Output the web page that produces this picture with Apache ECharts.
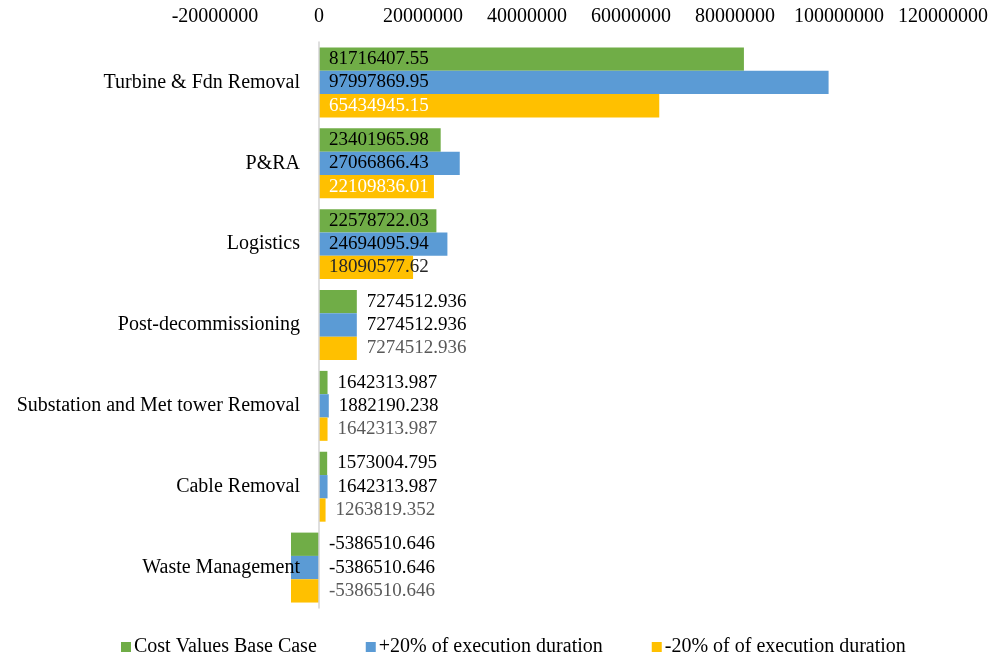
<!DOCTYPE html>
<html>
<head>
<meta charset="utf-8">
<script src="https://cdn.jsdelivr.net/npm/echarts@6/dist/echarts.min.js"></script>
<style>
  html, body { margin: 0; padding: 0; background: #fff; }
  #main { width: 1003px; height: 666px; }
</style>
</head>
<body>
<div id="main"></div>
<script>
var categories = ['Turbine & Fdn Removal', 'P&RA', 'Logistics', 'Post-decommissioning',
  'Substation and Met tower Removal', 'Cable Removal', 'Waste Management'];
var seriesNames = ['Cost Values Base Case', '+20% of execution duration', '-20% of of execution duration'];
var baseCase = [81716407.55, 23401965.98, 22578722.03, 7274512.936, 1642313.987, 1573004.795, -5386510.646];
var plus20 = [97997869.95, 27066866.43, 24694095.94, 7274512.936, 1882190.238, 1642313.987, -5386510.646];
var minus20 = [65434945.15, 22109836.01, 18090577.62, 7274512.936, 1642313.987, 1263819.352, -5386510.646];
var xTicks = { min: -20000000, max: 120000000, step: 20000000 };

var colors = ['#70AD47', '#5B9BD5', '#FFC000'];
var font = "'Liberation Serif', 'Times New Roman', serif";

// excel puts the value inside when the bar is long enough, otherwise to the right
function makeData(values, idx) {
  return values.map(function (v) {
    var inside = v > 15000000;
    var color = '#000';
    if (idx === 2) color = inside ? (v > 20000000 ? '#fff' : '#262626') : '#595959';
    return {
      value: v,
      label: {
        position: inside ? 'insideLeft' : 'right',
        distance: 10,
        color: color
      }
    };
  });
}

var series = [baseCase, plus20, minus20].map(function (vals, i) {
  return {
    name: seriesNames[i],
    type: 'bar',
    barGap: 0,
    barCategoryGap: '13.5%',
    itemStyle: { color: colors[i] },
    label: {
      show: true,
      fontFamily: font,
      fontSize: 19,
      formatter: function (p) { return String(p.value); }
    },
    data: makeData(vals, i)
  };
});

var option = {
  backgroundColor: '#fff',
  animation: false,
  textStyle: { fontFamily: font },
  grid: { left: 215, right: 60, top: 42, bottom: 58, containLabel: false, outerBoundsMode: 'none' },
  legend: {
    bottom: 4,
    left: 116,
    itemWidth: 10,
    itemHeight: 10,
    itemGap: 49,
    icon: 'rect',
    textStyle: { fontFamily: font, fontSize: 20, color: '#000', padding: [0, 0, 0, -2] },
    data: seriesNames
  },
  xAxis: {
    type: 'value',
    position: 'top',
    min: xTicks.min,
    max: xTicks.max,
    interval: xTicks.step,
    axisLine: { show: false },
    axisTick: { show: false },
    splitLine: { show: false },
    axisLabel: {
      fontFamily: font, fontSize: 20, color: '#000', margin: 15,
      showMinLabel: true, showMaxLabel: true, hideOverlap: false,
      formatter: function (v) { return String(v); }
    }
  },
  yAxis: {
    type: 'category',
    inverse: true,
    z: 5,
    data: categories,
    axisLine: { show: true, onZero: true, lineStyle: { color: '#d4d4d4', width: 1.5 } },
    axisTick: { show: false },
    // labels sit just left of the zero line, like in excel
    axisLabel: { fontFamily: font, fontSize: 20, color: '#000', margin: -85 }
  },
  series: series
};

var myChart = echarts.init(document.getElementById('main'));
myChart.setOption(option);
</script>
</body>
</html>
